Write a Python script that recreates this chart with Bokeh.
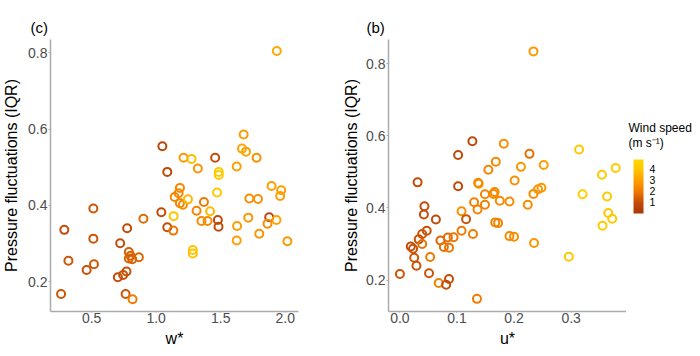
import numpy as np
from bokeh.plotting import figure
from bokeh.layouts import row
from bokeh.models import (ColumnDataSource, LinearColorMapper, ColorBar, Label,
                          FixedTicker, Range1d, NumeralTickFormatter, AllLabels)
from bokeh.transform import transform
from bokeh.embed import file_html
from bokeh.resources import INLINE

# ---------------- data ----------------
w_star = [1.935, 1.048, 1.212, 1.274, 1.457, 1.323, 1.086, 1.678, 1.665, 1.696,
          1.778, 1.624, 1.485, 1.485, 1.472, 1.184, 1.174, 1.143, 1.184, 1.207,
          1.246, 1.135, 1.040, 1.086, 1.133, 1.370, 1.313, 1.418, 1.351, 1.398,
          1.478, 1.483, 1.284, 1.284, 1.627, 1.624, 1.722, 1.789, 1.714, 1.799,
          1.894, 1.969, 1.961, 1.876, 1.863, 1.932, 2.017, 0.901, 0.721, 0.775,
          0.513, 0.513, 0.288, 0.320, 0.461, 0.518, 0.263, 0.788, 0.801, 0.788,
          0.814, 0.866, 0.770, 0.744, 0.703, 0.763, 0.817]
iqr_w = [0.805, 0.555, 0.525, 0.522, 0.525, 0.497, 0.488, 0.586, 0.549, 0.541,
         0.525, 0.502, 0.488, 0.480, 0.434, 0.446, 0.432, 0.422, 0.406, 0.402,
         0.416, 0.372, 0.382, 0.343, 0.334, 0.409, 0.386, 0.385, 0.359, 0.359,
         0.362, 0.344, 0.283, 0.274, 0.346, 0.308, 0.418, 0.417, 0.368, 0.326,
         0.451, 0.440, 0.425, 0.369, 0.352, 0.362, 0.306, 0.365, 0.301, 0.340,
         0.392, 0.313, 0.336, 0.255, 0.231, 0.246, 0.168, 0.278, 0.268, 0.261,
         0.259, 0.264, 0.227, 0.218, 0.212, 0.168, 0.154]
wind_w = [3.3, 0.7, 2.8, 3.8, 1.0, 2.7, 0.8, 2.9, 3.2, 3.1,
          2.6, 3.0, 4.3, 4.3, 4.2, 2.4, 2.4, 2.3, 2.3, 2.4,
          3.7, 4.1, 0.9, 1.0, 1.9, 2.0, 2.3, 3.7, 2.5, 2.5,
          0.9, 0.9, 4.0, 4.0, 3.0, 3.0, 2.6, 2.6, 2.8, 2.7,
          3.0, 3.0, 3.0, 0.7, 2.5, 3.1, 2.8, 1.7, 1.0, 0.9,
          1.2, 1.2, 1.0, 1.2, 1.1, 1.3, 1.2, 1.4, 1.5, 1.5,
          1.4, 1.6, 1.1, 1.1, 1.0, 1.2, 2.0]

u_star = [0.234, 0.127, 0.182, 0.102, 0.227, 0.168, 0.155, 0.212, 0.252, 0.102,
          0.031, 0.137, 0.138, 0.201, 0.149, 0.164, 0.166, 0.175, 0.192, 0.234,
          0.242, 0.248, 0.224, 0.130, 0.149, 0.136, 0.108, 0.116, 0.043, 0.042,
          0.063, 0.167, 0.172, 0.047, 0.039, 0.033, 0.039, 0.019, 0.023, 0.025,
          0.029, 0.053, 0.000, 0.051, 0.071, 0.077, 0.084, 0.086, 0.094, 0.108,
          0.128, 0.068, 0.081, 0.086, 0.135, 0.192, 0.200, 0.235, 0.296, 0.314,
          0.378, 0.354, 0.320, 0.363, 0.365, 0.372, 0.355]
iqr_u = [0.834, 0.585, 0.578, 0.547, 0.550, 0.528, 0.506, 0.514, 0.519, 0.460,
         0.471, 0.470, 0.467, 0.476, 0.438, 0.439, 0.444, 0.420, 0.418, 0.439,
         0.452, 0.456, 0.409, 0.416, 0.409, 0.396, 0.391, 0.369, 0.405, 0.382,
         0.368, 0.360, 0.358, 0.337, 0.328, 0.313, 0.300, 0.293, 0.287, 0.262,
         0.240, 0.264, 0.217, 0.219, 0.310, 0.292, 0.318, 0.290, 0.319, 0.337,
         0.328, 0.192, 0.187, 0.203, 0.148, 0.322, 0.320, 0.303, 0.265, 0.562,
         0.511, 0.492, 0.438, 0.432, 0.386, 0.370, 0.351]
wind_u = [2.9, 0.8, 2.6, 0.9, 1.8, 2.4, 2.3, 2.8, 3.0, 0.8,
          1.0, 2.5, 2.5, 2.6, 2.3, 2.4, 2.4, 2.4, 2.5, 2.5,
          2.7, 2.8, 2.5, 2.2, 2.2, 2.3, 2.6, 1.2, 1.0, 1.0,
          0.9, 2.3, 2.3, 1.1, 1.2, 1.1, 1.8, 1.0, 1.1, 1.2,
          1.1, 2.0, 1.2, 1.2, 1.6, 1.8, 1.7, 1.9, 1.9, 2.0,
          2.1, 2.2, 1.0, 1.0, 2.1, 2.5, 2.5, 2.8, 4.2, 4.2,
          4.4, 4.2, 4.4, 4.2, 4.1, 4.2, 4.3]

y_ticks = [0.2, 0.4, 0.6, 0.8]
w_ticks = [0.5, 1.0, 1.5, 2.0]
u_ticks = [0.0, 0.1, 0.2, 0.3]
cbar_ticks = [1, 2, 3, 4]
wind_low, wind_high = 0.0, 4.9

# ---------------- style ----------------
FONT = "Liberation Sans"
anchors_v = [0.0, 1.0, 2.0, 3.0, 4.0, 4.9]
anchors_c = [(0xA8, 0x38, 0x0A), (0xC4, 0x4C, 0x08), (0xF0, 0x7A, 0x00),
             (0xFF, 0x9E, 0x00), (0xFF, 0xC4, 0x00), (0xFF, 0xD8, 0x00)]
vals = np.linspace(wind_low, wind_high, 256)
palette = []
for v in vals:
    r = np.interp(v, anchors_v, [c[0] for c in anchors_c])
    g = np.interp(v, anchors_v, [c[1] for c in anchors_c])
    b = np.interp(v, anchors_v, [c[2] for c in anchors_c])
    palette.append("#%02x%02x%02x" % (int(round(r)), int(round(g)), int(round(b))))
mapper = LinearColorMapper(palette=palette, low=wind_low, high=wind_high)

H = 356
FH = 272  # frame height
TOP = 39
BOTTOM = H - TOP - FH


def make_panel(x, y, c, xr, yr, xticks, xlabel, fw, left, right, tag, tag_off,
               ylab_standoff):
    p = figure(width=left + fw + right, height=H,
               x_range=Range1d(*xr), y_range=Range1d(*yr),
               output_backend="svg", toolbar_location=None,
               min_border_left=left, min_border_right=right,
               min_border_top=TOP, min_border_bottom=BOTTOM)
    p.outline_line_color = None
    p.grid.visible = False
    p.background_fill_color = "white"
    p.border_fill_color = "white"
    src = ColumnDataSource(dict(x=x, y=y, c=c))
    p.scatter("x", "y", source=src, size=8, fill_color=None,
              line_color=transform("c", mapper), line_width=2)
    for ax in (p.xaxis[0], p.yaxis[0]):
        ax.axis_line_color = "#ABABAB"
        ax.axis_line_width = 1.5
        ax.major_tick_line_color = "#ABABAB"
        ax.major_tick_in = 0
        ax.minor_tick_line_color = None
        ax.major_label_text_font = FONT
        ax.major_label_text_font_size = "14px"
        ax.major_label_text_color = "#4D4D4D"
        ax.axis_label_text_font = FONT
        ax.axis_label_text_font_size = "16px"
        ax.axis_label_text_font_style = "normal"
        ax.axis_label_text_color = "black"
    p.xaxis.major_tick_out = 1
    p.yaxis.major_tick_out = 2
    p.xaxis.ticker = FixedTicker(ticks=xticks)
    p.yaxis.ticker = FixedTicker(ticks=y_ticks)
    p.xaxis.formatter = NumeralTickFormatter(format="0.0")
    p.yaxis.formatter = NumeralTickFormatter(format="0.0")
    p.xaxis.major_label_standoff = 0
    p.yaxis.major_label_standoff = 1
    p.xaxis.axis_label = xlabel
    p.yaxis.axis_label = "Pressure fluctuations (IQR)"
    p.xaxis.axis_label_standoff = 4
    p.yaxis.axis_label_standoff = ylab_standoff
    p.title.text = tag
    p.title.align = "left"
    p.title.offset = tag_off
    p.title.standoff = 8
    p.title.text_font = FONT
    p.title.text_font_size = "15px"
    p.title.text_font_style = "normal"
    p.title.text_color = "black"
    return p


# left panel (c)
p1 = make_panel(w_star, iqr_w, wind_w, (0.181, 2.103), (0.122, 0.835),
                w_ticks, "w*", 249, 49, 42, "(c)", -20, 5)

# right panel (b)
p2 = make_panel(u_star, iqr_u, wind_u, (-0.020, 0.397), (0.113, 0.867),
                u_ticks, "u*", 240, 46, 0, "(b)", -22, 3)

# legend panel (colour bar); frame aligned with the panels' frames
LW = 74
p3 = figure(width=LW, height=H, x_range=Range1d(0, LW), y_range=Range1d(0, FH),
            output_backend="svg", toolbar_location=None,
            x_axis_type=None, y_axis_type=None,
            min_border_left=0, min_border_right=0,
            min_border_top=TOP, min_border_bottom=BOTTOM)
p3.outline_line_color = None
p3.grid.visible = False
frame_bottom = TOP + FH
p3.add_layout(Label(x=2, y=frame_bottom - 127, text="Wind speed", text_font=FONT,
                    text_font_size="12px", text_baseline="middle",
                    text_align="left", text_color="black"))
p3.add_layout(Label(x=2, y=frame_bottom - 142, text="(m s\u207b\u00b9)", text_font=FONT,
                    text_font_size="12px", text_baseline="middle",
                    text_align="left", text_color="black"))
cb = ColorBar(color_mapper=mapper, ticker=FixedTicker(ticks=cbar_ticks),
              width=10, height=54, location=(7, frame_bottom - 213), padding=0, margin=0,
              major_tick_line_color=None, bar_line_color=None,
              border_line_color=None, background_fill_color=None,
              major_label_policy=AllLabels(),
              major_label_text_font=FONT, major_label_text_font_size="10.5px",
              major_label_text_color="black", label_standoff=6)
p3.add_layout(cb, "center")

layout = row(p1, p2, p3, spacing=0)
open("out.html", "w").write(file_html(layout, INLINE))
